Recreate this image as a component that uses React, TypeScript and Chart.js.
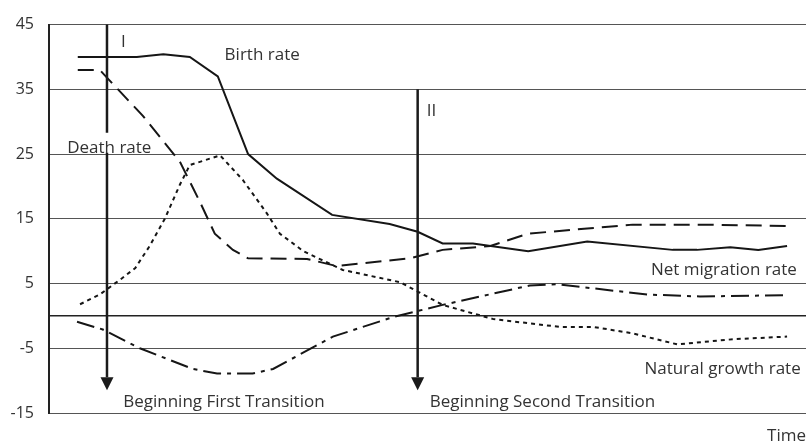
import React, { useEffect, useRef } from "react";
import { Chart, registerables } from "chart.js";

Chart.register(...registerables);

// Time positions (0..100 arbitrary time units) and rates (per 1000)
const birthTime = [3.8, 11.6, 15.1, 18.6, 22.3, 26.3, 30.1, 37.4, 45.0, 48.7, 52.0, 56.0, 63.3, 71.1, 82.4, 85.6, 90.0, 93.7, 97.5];
const birthRate = [40, 40, 40.4, 40, 37, 25, 21.2, 15.6, 14.2, 13, 11.2, 11.2, 10, 11.5, 10.2, 10.2, 10.6, 10.2, 10.8];

const deathTime = [3.8, 6.7, 12.4, 17.3, 19.9, 21.9, 24.3, 26.3, 34.1, 38.0, 47.7, 52.0, 58.3, 63.3, 71.1, 77.1, 86.0, 97.5];
const deathRate = [38, 38, 30.9, 23.8, 17.7, 12.7, 10.2, 8.9, 8.8, 7.7, 8.9, 10.2, 10.8, 12.7, 13.5, 14.1, 14.1, 13.9];

const naturalTime = [4.1, 6.7, 9.4, 11.4, 13.3, 15.3, 17.3, 18.6, 22.6, 25.6, 28.8, 30.5, 33.6, 38.8, 46.4, 52.0, 58.7, 67.5, 71.9, 77.1, 83.0, 90.4, 97.5];
const naturalRate = [1.8, 3.3, 5.6, 7.4, 10.8, 15, 20.3, 23.3, 24.8, 21, 15.8, 12.7, 10, 7.1, 5.2, 1.7, -0.5, -1.7, -1.7, -2.7, -4.4, -3.6, -3.2];

const migrationTime = [3.7, 7.1, 12.0, 19.0, 22.2, 26.9, 29.6, 37.5, 45.4, 52.0, 63.5, 67.1, 79.0, 86.0, 97.5];
const migrationRate = [-0.9, -2.1, -5, -8.2, -8.9, -8.9, -8.2, -3.2, -0.2, 1.7, 4.7, 4.9, 3.3, 3.0, 3.2];

const yTicks = [-15, -5, 0, 5, 15, 25, 35, 45];

// Transition arrows: time, top value, bottom value, optional gap [from, to]
const arrows = [
  { t: 7.66, top: 45, bottom: -11.5, gap: [28.3, 25.2] as number[] | null },
  { t: 48.7, top: 35, bottom: -11.5, gap: null as number[] | null },
];

// Text annotations: text, time, value, alignment
const labels = [
  { text: "Birth rate", t: 23.2, v: 40.3, align: "left" },
  { text: "Death rate", t: 2.4, v: 25.9, align: "left" },
  { text: "I", t: 9.5, v: 42.3, align: "left" },
  { text: "II", t: 49.9, v: 31.7, align: "left" },
  { text: "Net migration rate", t: 98.8, v: 7.0, align: "right" },
  { text: "Natural growth rate", t: 99.3, v: -8.2, align: "right" },
  { text: "Beginning First Transition", t: 9.8, v: -13.3, align: "left" },
  { text: "Beginning Second Transition", t: 50.3, v: -13.3, align: "left" },
  { text: "Time", t: 100, v: -18.5, align: "right" },
];

const FONT = '"Open Sans", "DejaVu Sans", sans-serif';

const toPts = (xs: number[], ys: number[]) => xs.map((x, i) => ({ x, y: ys[i] }));

const annotPlugin = {
  id: "annot",
  afterDatasetsDraw(chart: any) {
    const { ctx, scales } = chart;
    const xs = scales.x;
    const ys = scales.y;
    ctx.save();
    ctx.strokeStyle = "#1a1a1a";
    ctx.fillStyle = "#1a1a1a";
    ctx.lineWidth = 2.5;
    for (const a of arrows) {
      const px = xs.getPixelForValue(a.t);
      const top = ys.getPixelForValue(a.top);
      const tip = ys.getPixelForValue(a.bottom);
      const headLen = 13;
      const headBase = tip - headLen;
      ctx.beginPath();
      if (a.gap) {
        const g1 = ys.getPixelForValue(a.gap[0]);
        const g2 = ys.getPixelForValue(a.gap[1]);
        ctx.moveTo(px, top);
        ctx.lineTo(px, g1);
        ctx.moveTo(px, g2);
        ctx.lineTo(px, headBase);
      } else {
        ctx.moveTo(px, top);
        ctx.lineTo(px, headBase);
      }
      ctx.stroke();
      ctx.beginPath();
      ctx.moveTo(px - 6.5, headBase);
      ctx.lineTo(px + 6.5, headBase);
      ctx.lineTo(px, tip);
      ctx.closePath();
      ctx.fill();
    }
    ctx.fillStyle = "#333";
    ctx.font = `17px ${FONT}`;
    ctx.textBaseline = "middle";
    for (const l of labels) {
      ctx.textAlign = l.align as CanvasTextAlign;
      ctx.fillText(l.text, xs.getPixelForValue(l.t), ys.getPixelForValue(l.v));
    }
    ctx.restore();
  },
};

export default function App() {
  const ref = useRef<HTMLCanvasElement>(null);
  useEffect(() => {
    if (!ref.current) return;
    const lineColor = "#161616";
    const chart = new Chart(ref.current, {
      type: "line",
      data: {
        datasets: [
          { label: "Birth rate", data: toPts(birthTime, birthRate), borderColor: lineColor, borderWidth: 2, pointRadius: 0, tension: 0 },
          { label: "Death rate", data: toPts(deathTime, deathRate), borderColor: lineColor, borderWidth: 2, borderDash: [16, 8], pointRadius: 0, tension: 0 },
          { label: "Natural growth rate", data: toPts(naturalTime, naturalRate), borderColor: lineColor, borderWidth: 2, borderDash: [4, 4], pointRadius: 0, tension: 0 },
          { label: "Net migration rate", data: toPts(migrationTime, migrationRate), borderColor: lineColor, borderWidth: 2, borderDash: [18, 6, 4, 6], pointRadius: 0, tension: 0 },
        ],
      },
      options: {
        animation: false,
        responsive: true,
        maintainAspectRatio: false,
        layout: { padding: { top: 17, bottom: 31, left: 0, right: 0 } },
        plugins: { legend: { display: false }, tooltip: { enabled: false } },
        scales: {
          x: { type: "linear", min: 0, max: 100, display: false },
          y: {
            type: "linear",
            min: -15,
            max: 45,
            afterBuildTicks: (axis: any) => {
              axis.ticks = yTicks.map((v) => ({ value: v }));
            },
            afterFit: (axis: any) => {
              axis.width = 49;
            },
            ticks: {
              padding: 15,
              color: "#333",
              font: { size: 16, family: FONT },
              callback: (v: any) => (v === 0 ? "" : String(v)),
            },
            grid: {
              drawTicks: false,
              color: (c: any) => (c.tick && c.tick.value === 0 ? "#222" : "#555"),
              lineWidth: (c: any) => (c.tick && c.tick.value === 0 ? 1.6 : 1),
            },
            border: { display: true, color: "#222", width: 2 },
          },
        },
      },
      plugins: [annotPlugin],
    });
    return () => chart.destroy();
  }, []);
  return (
    <div style={{ position: "fixed", left: 0, top: 0, width: 806, height: 444, background: "#fff" }}>
      <canvas ref={ref} />
    </div>
  );
}
